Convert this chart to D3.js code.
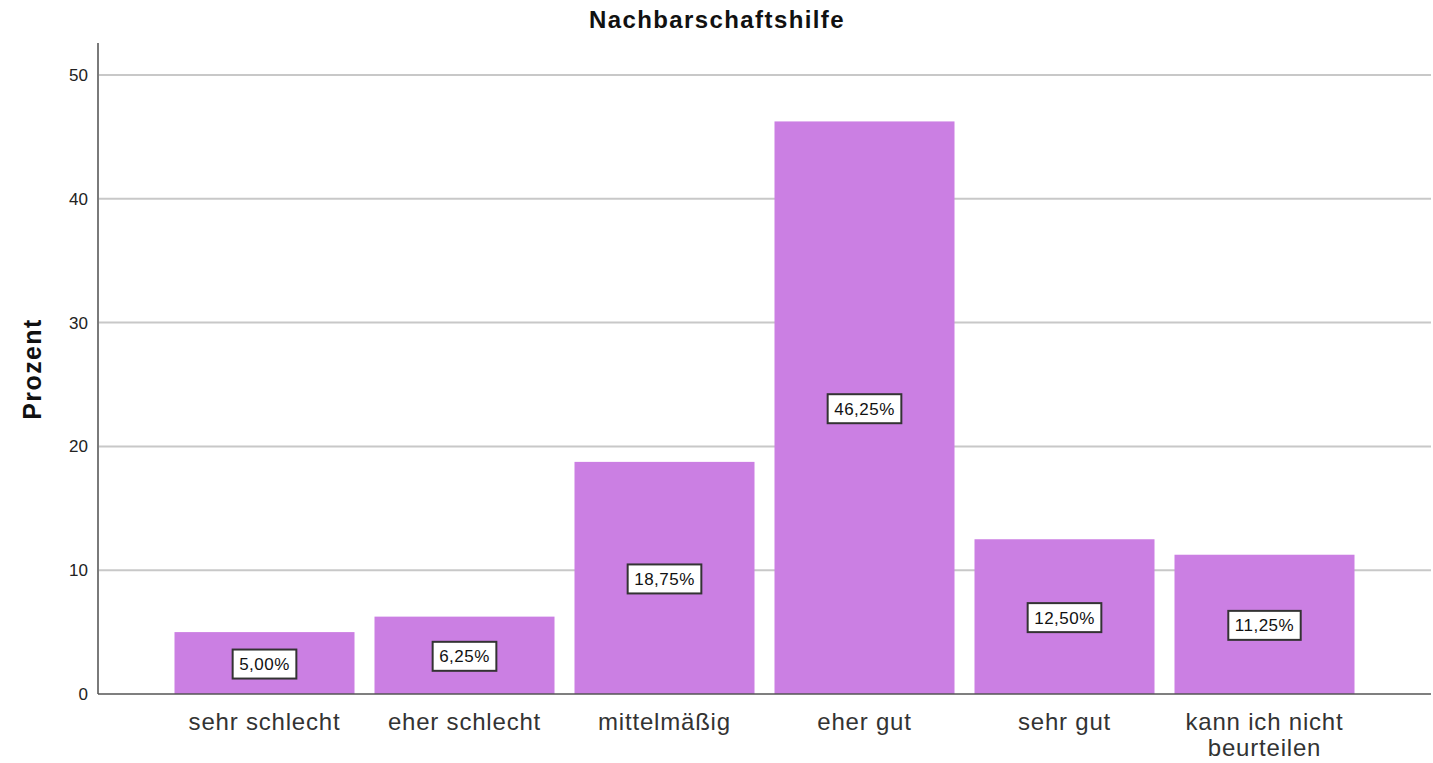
<!DOCTYPE html>
<html><head><meta charset="utf-8">
<script src="https://cdn.jsdelivr.net/npm/d3@7"></script>
<style>body{margin:0;background:#fff;}svg{display:block;font-family:"Liberation Sans",Arial,sans-serif;}</style>
</head><body><svg id="c" width="1433" height="763"></svg>
<script>
const categories = ["sehr schlecht","eher schlecht","mittelmäßig","eher gut","sehr gut","kann ich nicht beurteilen"];
const values = [5.00, 6.25, 18.75, 46.25, 12.50, 11.25];
const valueLabels = ["5,00%","6,25%","18,75%","46,25%","12,50%","11,25%"];
const categoryLines = [["sehr schlecht"],["eher schlecht"],["mittelmäßig"],["eher gut"],["sehr gut"],["kann ich nicht","beurteilen"]];
const yTicks = [0,10,20,30,40,50];

(function(){
const svg = d3.select("#c");
const pLeft = 98, pRight = 1431, pBottom = 694, pTop = 43;
const y = d3.scaleLinear().domain([0,50]).range([pBottom, 75]);
const x = d3.scaleBand().domain(categories).range([pLeft,pRight]).paddingInner(0.1).paddingOuter(0.3825);

// gridlines
svg.append("g").selectAll("line").data(yTicks.filter(d=>d>0)).join("line")
  .attr("x1",pLeft).attr("x2",pRight).attr("y1",d=>y(d)).attr("y2",d=>y(d))
  .attr("stroke","#c8c8c8").attr("stroke-width",2);

// y axis
const yAxis = svg.append("g").attr("transform",`translate(${pLeft},0)`)
  .call(d3.axisLeft(y).tickValues(yTicks).tickSize(0).tickPadding(10));
yAxis.select(".domain").remove();
yAxis.selectAll("text").attr("font-size",17).attr("fill","#222").attr("font-family","Liberation Sans, Arial, sans-serif");
svg.append("line").attr("x1",pLeft).attr("x2",pLeft).attr("y1",pTop).attr("y2",pBottom)
  .attr("stroke","#7a7a7a").attr("stroke-width",2);

// bars
svg.append("g").selectAll("rect").data(values).join("rect")
  .attr("x",(d,i)=>x(categories[i])).attr("width",x.bandwidth())
  .attr("y",d=>y(d)).attr("height",d=>pBottom-y(d))
  .attr("fill","#cb7fe3");

// x baseline
svg.append("line").attr("x1",pLeft).attr("x2",pRight).attr("y1",pBottom).attr("y2",pBottom)
  .attr("stroke","#555").attr("stroke-width",1.5);

// value labels
const lab = svg.append("g").selectAll("g").data(values).join("g")
  .attr("transform",(d,i)=>`translate(${x(categories[i])+x.bandwidth()/2},${y(d/2)+1})`);
lab.each(function(d,i){
  const g = d3.select(this);
  const r = g.append("rect");
  const t = g.append("text").text(valueLabels[i]).attr("text-anchor","middle")
    .attr("dy","0.35em").attr("font-size",17).attr("letter-spacing",0.5).attr("fill","#111");
  const w = t.node().getComputedTextLength()+13;
  r.attr("x",-w/2).attr("y",-14.5).attr("width",w).attr("height",29)
    .attr("fill","#fff").attr("stroke","#333").attr("stroke-width",2);
});

// x labels
svg.append("g").selectAll("text").data(categoryLines).join("text")
  .attr("x",(d,i)=>x(categories[i])+x.bandwidth()/2)
  .attr("y",730).attr("text-anchor","middle").attr("font-size",24).attr("letter-spacing",0.8).attr("fill","#333")
  .each(function(lines){
    const t=d3.select(this);
    lines.forEach((l,k)=>t.append("tspan").attr("x",t.attr("x")).attr("dy",k?26:0).text(l));
  });

// title
svg.append("text").attr("x",717).attr("y",28).attr("text-anchor","middle")
  .attr("font-size",24).attr("letter-spacing",1.4).attr("font-weight","bold").attr("fill","#111").text("Nachbarschaftshilfe");

// y title
svg.append("text").attr("transform","translate(41,369) rotate(-90)").attr("text-anchor","middle")
  .attr("font-size",25).attr("letter-spacing",1.4).attr("font-weight","bold").attr("fill","#111").text("Prozent");
})();
</script></body></html>
